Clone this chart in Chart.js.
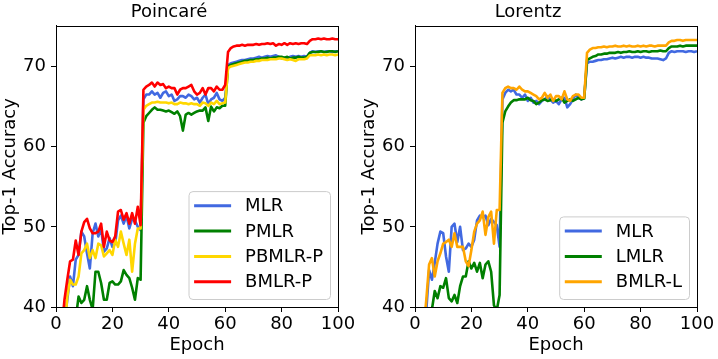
<!DOCTYPE html>
<html>
<head>
<meta charset="utf-8">
<script src="https://cdn.jsdelivr.net/npm/chart.js@4.4.1/dist/chart.umd.min.js"></script>
<style>
  body { margin: 0; background: #ffffff; }
  #wrap { position: relative; width: 718px; height: 359px; }
  canvas { position: absolute; top: 0; }
</style>
</head>
<body>
<div id="wrap">
  <canvas id="poincare" width="359" height="359" style="left:0px"></canvas>
  <canvas id="lorentz" width="359" height="359" style="left:359px"></canvas>
</div>
<script>
// epochs 1..100 are the x categories
const epochs = Array.from({length: 100}, (_, i) => i + 1)
const xTicks = [0, 20, 40, 60, 80, 100]
const yTicks = [40, 50, 60, 70]

// poincare panel
const pMLR = [
  33, 35.5, 38, 40.9, 43.8, 42.6, 45.9, 46.5, 49.4, 48.8,
  46.7, 44.8, 49.2, 50.4, 48.8, 49.8, 46.9, 47.3, 48.6, 47.5,
  47.9, 50.8, 51.4, 50.4, 51.4, 49.8, 51.0, 50.8, 50.0, 49.6,
  65.9, 66.5, 66.5, 66.9, 66.5, 66.7, 66.1, 66.7, 66.9, 66.3,
  66.5, 65.7, 65.9, 66.3, 66.3, 66.1, 66.5, 66.3, 65.9, 66.1,
  65.5, 66.1, 66.5, 65.3, 65.9, 66.1, 66.7, 65.9, 65.7, 66.1,
  70.2, 70.4, 70.5, 70.6, 70.7, 70.8, 70.8, 70.9, 71.0, 71.0,
  71.1, 71.2, 71.1, 71.2, 71.3, 71.2, 71.3, 71.4, 71.2, 71.0,
  71.1, 71.0, 71.2, 71.3, 71.2, 71.3, 71.2, 71.3, 71.2, 71.7,
  71.9, 71.8, 71.9, 71.9, 71.8, 71.9, 71.9, 71.8, 71.9, 71.9
]
const pPMLR = [
  30, 32, 34, 35.5, 36.5, 37.5, 38.5, 41.3, 40.5, 40.9,
  42.6, 40.9, 39.7, 44.4, 44.4, 43.0, 40.9, 40.9, 43.0, 43.2,
  42.8, 42.8, 43.2, 44.6, 44.0, 43.6, 42.4, 40.9, 43.6, 43.4,
  63.0, 63.8, 64.2, 64.6, 64.9, 64.6, 64.6, 64.5, 64.4, 64.5,
  64.3, 64.1, 64.4, 63.8, 62.0, 64.0, 64.2, 64.0, 64.2, 64.4,
  64.5, 64.5, 64.9, 63.2, 65.0, 64.4, 64.9, 64.8, 65.1, 65.1,
  70.0, 70.2, 70.3, 70.4, 70.5, 70.6, 70.7, 70.7, 70.8, 70.8,
  70.9, 70.9, 71.0, 71.0, 71.1, 71.0, 71.1, 71.1, 71.2, 71.2,
  71.1, 71.2, 71.0, 71.1, 71.1, 71.2, 71.1, 71.1, 71.2, 71.7,
  71.8, 71.8, 71.8, 71.9, 71.8, 71.8, 71.9, 71.9, 71.8, 71.9
]
const pPBMLR = [
  32, 34.5, 37, 41.3, 43.4, 42.8, 42.8, 43.8, 46.7, 47.1,
  47.9, 46.1, 47.1, 46.1, 47.9, 47.7, 46.3, 46.7, 47.1, 46.5,
  48.4, 47.5, 49.4, 47.9, 46.5, 48.4, 44.4, 47.9, 49.8, 49.8,
  64.6, 65.1, 65.3, 65.5, 65.5, 65.6, 65.5, 65.5, 65.5, 65.4,
  65.5, 65.3, 65.3, 65.5, 65.4, 65.4, 65.3, 65.4, 65.3, 65.3,
  65.1, 65.5, 65.4, 65.1, 65.5, 65.3, 65.7, 65.3, 65.4, 65.5,
  69.8, 70.0, 70.1, 70.2, 70.3, 70.4, 70.5, 70.5, 70.6, 70.6,
  70.7, 70.7, 70.8, 70.8, 70.8, 70.9, 70.9, 70.9, 71.0, 71.0,
  70.9, 70.8, 70.9, 70.8, 70.7, 70.9, 70.9, 70.9, 71.0, 71.4,
  71.4, 71.4, 71.5, 71.4, 71.5, 71.4, 71.5, 71.5, 71.4, 71.5
]
const pBMLR = [
  34, 37, 40.9, 43.4, 45.7, 45.9, 48.3, 46.5, 49.4, 50.6,
  51.0, 49.8, 49.2, 49.2, 49.4, 50.4, 47.5, 49.4, 48.3, 48.1,
  48.8, 51.9, 52.1, 50.9, 51.7, 50.4, 51.7, 50.4, 52.5, 50.2,
  67.1, 67.5, 67.7, 68.0, 67.5, 68.0, 67.7, 67.8, 67.3, 67.5,
  67.3, 67.3, 66.5, 67.1, 67.3, 67.3, 67.5, 67.7, 66.9, 66.5,
  66.7, 67.3, 66.5, 67.3, 67.3, 66.9, 67.5, 67.1, 67.1, 67.7,
  71.8, 72.3, 72.5, 72.6, 72.6, 72.7, 72.6, 72.7, 72.7, 72.7,
  72.8, 72.7, 72.8, 72.8, 72.9, 72.8, 72.9, 72.6, 72.8, 72.7,
  72.9, 72.7, 72.9, 72.8, 72.9, 72.8, 72.9, 72.9, 72.8, 73.2,
  73.4, 73.4, 73.5, 73.4, 73.5, 73.4, 73.4, 73.5, 73.4, 73.4
]

// lorentz panel
const lMLR = [
  32, 35, 37.5, 39.5, 44.6, 43.4, 45.5, 47.9, 49.4, 49.2,
  46.3, 44.4, 50.0, 50.4, 48.1, 50.0, 47.1, 47.3, 47.9, 47.5,
  48.4, 50.8, 51.4, 51.2, 51.4, 50.2, 51.0, 50.6, 50.2, 47.5,
  65.9, 66.7, 67.1, 66.9, 67.1, 66.5, 66.5, 66.1, 66.5, 65.7,
  66.1, 65.5, 65.7, 65.3, 65.7, 65.9, 66.3, 65.9, 65.5, 65.7,
  65.3, 65.9, 66.1, 64.9, 65.3, 65.9, 66.5, 66.1, 65.9, 66.1,
  70.4, 70.6, 70.6, 70.7, 70.8, 70.8, 70.9, 70.9, 71.0, 71.1,
  71.0, 71.1, 71.2, 71.1, 71.2, 71.2, 71.1, 71.2, 71.2, 71.1,
  71.2, 71.1, 71.1, 71.0, 71.0, 71.0, 70.9, 70.8, 71.0, 71.7,
  71.9, 71.8, 71.9, 71.9, 71.9, 71.8, 71.9, 71.9, 71.8, 71.9
]
const lLMLR = [
  29, 31, 33, 35, 37, 39.7, 42.0, 41.1, 42.6, 42.4,
  43.6, 41.1, 40.7, 41.5, 40.5, 42.6, 43.8, 43.8, 45.7, 44.8,
  45.5, 44.4, 45.5, 43.6, 45.3, 45.7, 44.4, 40.2, 39.6, 41.5,
  63.0, 64.4, 65.0, 65.5, 65.8, 65.8, 65.9, 65.9, 65.9, 66.1,
  65.8, 65.7, 65.3, 65.5, 65.8, 65.9, 65.7, 65.8, 65.9, 65.7,
  65.9, 66.1, 65.5, 65.7, 65.9, 65.7, 65.9, 66.1, 65.9, 66.0,
  70.8, 71.0, 71.2, 71.3, 71.5, 71.5, 71.6, 71.6, 71.7, 71.7,
  71.7, 71.8, 71.7, 71.8, 71.8, 71.9, 71.8, 71.8, 71.9, 71.8,
  71.9, 71.9, 71.8, 71.9, 71.9, 71.9, 72.0, 71.9, 71.9, 72.3,
  72.5, 72.5, 72.5, 72.6, 72.5, 72.6, 72.6, 72.6, 72.6, 72.6
]
const lBMLR = [
  31, 34, 37, 40.9, 45.3, 46.1, 43.8, 45.7, 46.7, 47.9,
  48.1, 48.4, 47.5, 49.2, 47.5, 47.5, 47.5, 45.7, 45.1, 47.1,
  49.4, 50.4, 50.8, 51.9, 49.0, 51.2, 51.9, 47.9, 52.1, 52.1,
  66.7, 67.3, 67.5, 67.3, 67.3, 67.1, 67.5, 67.1, 66.9, 66.9,
  66.7, 66.5, 66.3, 65.9, 66.1, 66.7, 66.1, 66.5, 65.7, 66.3,
  66.3, 65.9, 66.9, 65.9, 65.7, 66.3, 66.5, 66.5, 66.1, 66.1,
  71.7, 72.1, 72.3, 72.3, 72.4, 72.4, 72.5, 72.4, 72.5, 72.5,
  72.6, 72.5, 72.5, 72.6, 72.5, 72.6, 72.5, 72.5, 72.6, 72.5,
  72.6, 72.5, 72.6, 72.6, 72.5, 72.6, 72.6, 72.6, 72.6, 73.0,
  73.2, 73.2, 73.3, 73.3, 73.2, 73.3, 73.3, 73.3, 73.3, 73.3
]

const FONT = "'DejaVu Sans', sans-serif"
Chart.defaults.font.family = FONT
Chart.defaults.font.size = 18
Chart.defaults.color = "#000000"

// black box round the plot area, like matplotlib spines
const frame = {
  id: "frame",
  afterDraw(chart) {
    let a = chart.chartArea
    let ctx = chart.ctx
    ctx.save()
    ctx.strokeStyle = "#000000"
    ctx.lineWidth = 1
    ctx.strokeRect(Math.round(a.left) + 0.5, Math.round(a.top) + 0.5, Math.round(a.right - a.left), Math.round(a.bottom - a.top))
    ctx.restore()
  }
}

// legend in the lower right corner of the plot area
const boxLegend = {
  id: "boxLegend",
  afterDatasetsDraw(chart) {
    let a = chart.chartArea
    let ctx = chart.ctx
    let sets = chart.data.datasets
    let rowH = 25.3
    ctx.save()
    ctx.font = "18px " + FONT
    let textW = 0
    sets.forEach(s => { textW = Math.max(textW, ctx.measureText(s.label).width) })
    let w = 56.6 + textW + 7
    let h = 32 + (sets.length - 1) * rowH
    let x0 = a.right - 8 - w
    let y0 = a.bottom - 8 - h
    ctx.beginPath()
    ctx.roundRect(x0 + 0.5, y0 + 0.5, w, h, 4)
    ctx.fillStyle = "rgba(255,255,255,0.8)"
    ctx.fill()
    ctx.strokeStyle = "#cccccc"
    ctx.lineWidth = 1
    ctx.stroke()
    sets.forEach((s, i) => {
      let cy = y0 + 14.7 + i * rowH
      ctx.beginPath()
      ctx.moveTo(x0 + 5.6, cy)
      ctx.lineTo(x0 + 42.6, cy)
      ctx.strokeStyle = s.borderColor
      ctx.lineWidth = 3
      ctx.stroke()
      ctx.fillStyle = "#000000"
      ctx.textBaseline = "middle"
      ctx.textAlign = "left"
      ctx.fillText(s.label, x0 + 56.6, cy + 1)
    })
    ctx.restore()
  }
}

function makeSet(label, values, color, order) {
  return {
    label: label,
    data: epochs.map((e, i) => ({x: e, y: values[i]})),
    borderColor: color,
    backgroundColor: color,
    borderWidth: 2.6,
    pointRadius: 0,
    tension: 0,
    fill: false,
    clip: 0,
    borderJoinStyle: "round",
    order: order
  }
}

function makeChart(id, title, sets) {
  return new Chart(document.getElementById(id), {
    type: "line",
    data: { datasets: sets },
    plugins: [boxLegend, frame],
    options: {
      responsive: false,
      animation: false,
      layout: { padding: { top: 0, right: 21, bottom: 0, left: 0 } },
      plugins: {
        legend: { display: false },
        tooltip: { enabled: false },
        title: {
          display: true,
          text: title,
          color: "#000000",
          font: { size: 18, weight: "normal", lineHeight: 1.2 },
          padding: { top: 2, bottom: 2 }
        }
      },
      scales: {
        x: {
          type: "linear",
          min: 0,
          max: 100,
          afterBuildTicks: s => { s.ticks = xTicks.map(v => ({value: v})) },
          afterFit: s => { s.height = 52 },
          grid: { display: true, drawOnChartArea: false, drawTicks: true, tickLength: 5, tickWidth: 1, tickColor: "#000000" },
          border: { display: true, color: "#000000", width: 1 },
          ticks: { padding: 2, maxRotation: 0, font: { size: 18 } },
          title: { display: true, text: "Epoch", font: { size: 18 }, padding: { top: 0, bottom: 3 } }
        },
        y: {
          type: "linear",
          min: 40,
          max: 75.1,
          afterBuildTicks: s => { s.ticks = yTicks.map(v => ({value: v})) },
          afterFit: s => { s.width = 56 },
          grid: { display: true, drawOnChartArea: false, drawTicks: true, tickLength: 5, tickWidth: 1, tickColor: "#000000" },
          border: { display: true, color: "#000000", width: 1 },
          ticks: { padding: 5, font: { size: 18 } },
          title: { display: true, text: "Top-1 Accuracy", font: { size: 18 }, padding: { top: 0, bottom: 0 } }
        }
      }
    }
  })
}

makeChart("poincare", "Poincaré", [
  makeSet("MLR", pMLR, "#4169e1", 4),
  makeSet("PMLR", pPMLR, "#008000", 3),
  makeSet("PBMLR-P", pPBMLR, "#ffd700", 2),
  makeSet("BMLR-P", pBMLR, "#ff0000", 1)
])

makeChart("lorentz", "Lorentz", [
  makeSet("MLR", lMLR, "#4169e1", 3),
  makeSet("LMLR", lLMLR, "#008000", 2),
  makeSet("BMLR-L", lBMLR, "#ffa500", 1)
])
</script>
</body>
</html>
